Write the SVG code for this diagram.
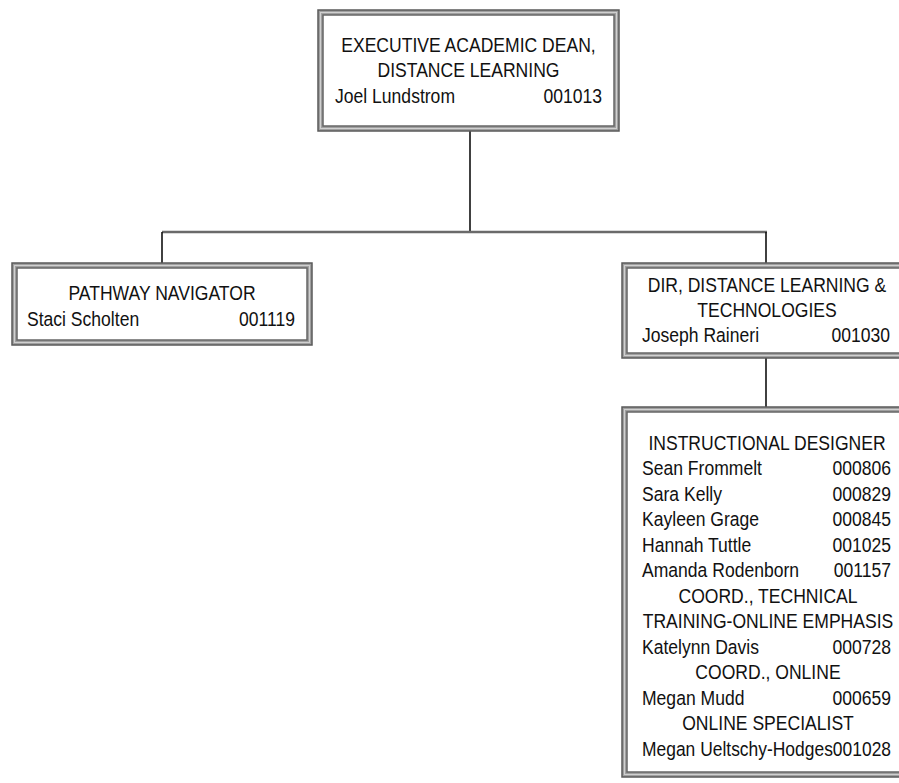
<svg xmlns="http://www.w3.org/2000/svg" width="899" height="783" viewBox="0 0 899 783">
<style>
.outer{fill:#a0a0a0;stroke:#5a5a5a;stroke-width:1.5}
.mid{fill:none;stroke:#d0d0d0;stroke-width:1}
.inner{fill:#ffffff;stroke:#666666;stroke-width:1.5}
.t{font-family:"Liberation Sans",Arial,sans-serif;font-size:19.5px;fill:#111}
.c{text-anchor:middle}
.r{text-anchor:end}
.v{stroke:#111;stroke-width:1.6;fill:none}
.h{stroke:#6a6a6a;stroke-width:2.6;fill:none}
</style>
<rect width="899" height="783" fill="#ffffff"/>
<g id="connectors">
<line class="v" x1="470" y1="131" x2="470" y2="232"/>
<line class="h" x1="162" y1="232" x2="767" y2="232"/>
<line class="v" x1="162" y1="232" x2="162" y2="263"/>
<line class="v" x1="766" y1="232" x2="766" y2="263"/>
<line class="v" x1="766" y1="358" x2="766" y2="407"/>
</g>
<g id="exec-dean">
<rect class="outer" x="318" y="10" width="301" height="121"/>
<rect class="mid" x="320.5" y="12.5" width="296" height="116"/>
<rect class="inner" x="323" y="15" width="291" height="111"/>
<g transform="matrix(0.9 0 0 1 46.85 0)">
<text class="t c" x="468.5" y="52">EXECUTIVE ACADEMIC DEAN,</text>
<text class="t c" x="468.5" y="77">DISTANCE LEARNING</text>
<text class="t" x="320.2" y="103">Joel Lundstrom</text>
<text class="t r" x="616.8" y="103">001013</text>
</g>
</g>
<g id="pathway-navigator">
<rect class="outer" x="12" y="263" width="300" height="82"/>
<rect class="mid" x="14.5" y="265.5" width="295" height="77"/>
<rect class="inner" x="17" y="268" width="290" height="72"/>
<g transform="matrix(0.9 0 0 1 16.2 0)">
<text class="t c" x="162" y="300">PATHWAY NAVIGATOR</text>
<text class="t" x="12" y="326">Staci Scholten</text>
<text class="t r" x="309.8" y="326">001119</text>
</g>
</g>
<g id="dir-distance">
<rect class="outer" x="622" y="263" width="290" height="95"/>
<rect class="mid" x="624.5" y="265.5" width="285" height="90"/>
<rect class="inner" x="627" y="268" width="280" height="85"/>
<g transform="matrix(0.9 0 0 1 76.7 0)">
<text class="t c" x="767" y="292">DIR, DISTANCE LEARNING &amp;</text>
<text class="t c" x="767" y="317">TECHNOLOGIES</text>
<text class="t" x="628.1" y="342">Joseph Raineri</text>
<text class="t r" x="903.7" y="342">001030</text>
</g>
</g>
<g id="instructional">
<rect class="outer" x="622" y="407" width="290" height="370"/>
<rect class="mid" x="624.5" y="409.5" width="285" height="365"/>
<rect class="inner" x="627" y="412" width="280" height="360"/>
<g transform="matrix(0.9 0 0 1 76.8 0)">
<text class="t c" x="766.9" y="450">INSTRUCTIONAL DESIGNER</text>
<text class="t" x="628" y="475.5">Sean Frommelt</text>
<text class="t r" x="904.7" y="475.5">000806</text>
<text class="t" x="628" y="501">Sara Kelly</text>
<text class="t r" x="904.7" y="501">000829</text>
<text class="t" x="628" y="526.5">Kayleen Grage</text>
<text class="t r" x="904.7" y="526.5">000845</text>
<text class="t" x="628" y="552">Hannah Tuttle</text>
<text class="t r" x="904.7" y="552">001025</text>
<text class="t" x="628" y="577.5">Amanda Rodenborn</text>
<text class="t r" x="904.7" y="577.5">001157</text>
<text class="t c" x="768" y="603">COORD., TECHNICAL</text>
<text class="t c" x="768" y="628.5">TRAINING-ONLINE EMPHASIS</text>
<text class="t" x="628" y="654">Katelynn Davis</text>
<text class="t r" x="904.7" y="654">000728</text>
<text class="t c" x="768" y="679.5">COORD., ONLINE</text>
<text class="t" x="628" y="705">Megan Mudd</text>
<text class="t r" x="904.7" y="705">000659</text>
<text class="t c" x="768" y="730.5">ONLINE SPECIALIST</text>
<text class="t" x="628" y="756" textLength="276.7" lengthAdjust="spacingAndGlyphs">Megan Ueltschy-Hodges001028</text>
</g>
</g>
</svg>
